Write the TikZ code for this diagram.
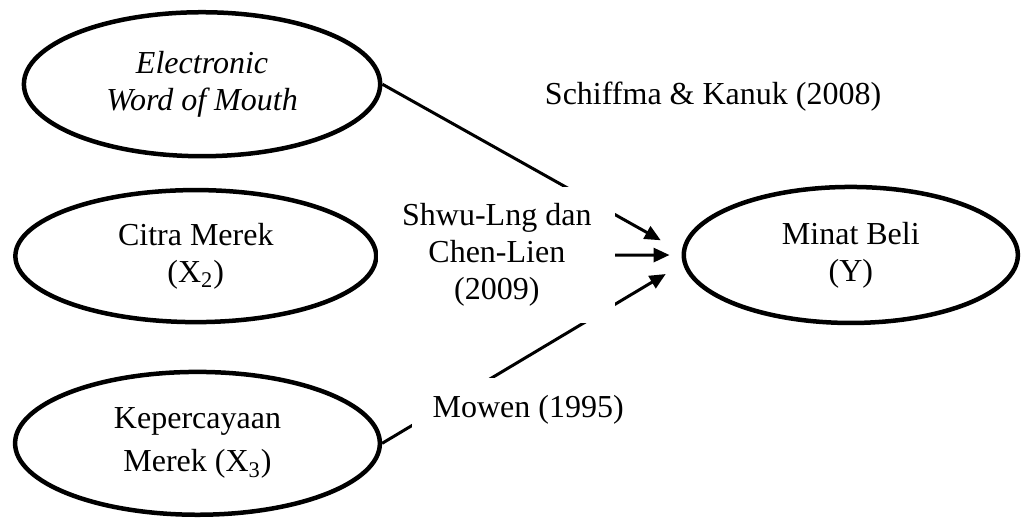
\documentclass[tikz,border=0pt]{standalone}
\usepackage{fontspec}
\setmainfont{Liberation Serif}
\usetikzlibrary{shapes.geometric,arrows.meta}

\begin{document}
\begin{tikzpicture}[
    font=\fontsize{16}{18.5}\selectfont,
    construct/.style={ellipse,draw=black,line width=2.25pt,inner sep=0pt,
      align=center},
    source/.style={fill=white,inner sep=0pt,align=center},
    link/.style={black,line width=1.5pt,-{Triangle[length=8pt,width=7pt]}},
  ]
  \useasboundingbox (0, 0) rectangle (17.94, 9.12);

  % Independent variables
  \node[construct,minimum width=6.26cm,minimum height=2.53cm] (ewom)
    at (3.55, 7.64) {\textit{Electronic}\\\textit{Word of Mouth}};
  \node[construct,minimum width=6.34cm,minimum height=2.32cm] (citra)
    at (3.44, 4.62) {Citra Merek\\(X\textsubscript{2})};
  \node[construct,minimum width=6.41cm,minimum height=2.51cm] (percaya)
    at (3.47, 1.33) {Kepercayaan\\[3pt]Merek (X\textsubscript{3})};

  % Dependent variable
  \node[construct,minimum width=5.87cm,minimum height=2.39cm] (minat)
    at (14.95, 4.64) {Minat Beli\\(Y)};

  % Relations
  \foreach \from/\target/\gap in {ewom/179/12pt, citra/180/6pt, percaya/183/10pt}
    \draw[link,shorten >=\gap] (\from.east) -- (minat.\target);

  % References (white boxes cut the lines)
  \node[source,minimum width=4.16cm,minimum height=2.39cm] (shwu)
    at (8.73, 4.64) {Shwu-Lng dan\\Chen-Lien\\(2009)};
  \node[source,minimum width=4.08cm,minimum height=1.13cm] (mowen)
    at (9.28, 1.92) {Mowen (1995)};
  \node (schiffma) at (12.53, 7.42) {Schiffma \& Kanuk (2008)};
\end{tikzpicture}
\end{document}
